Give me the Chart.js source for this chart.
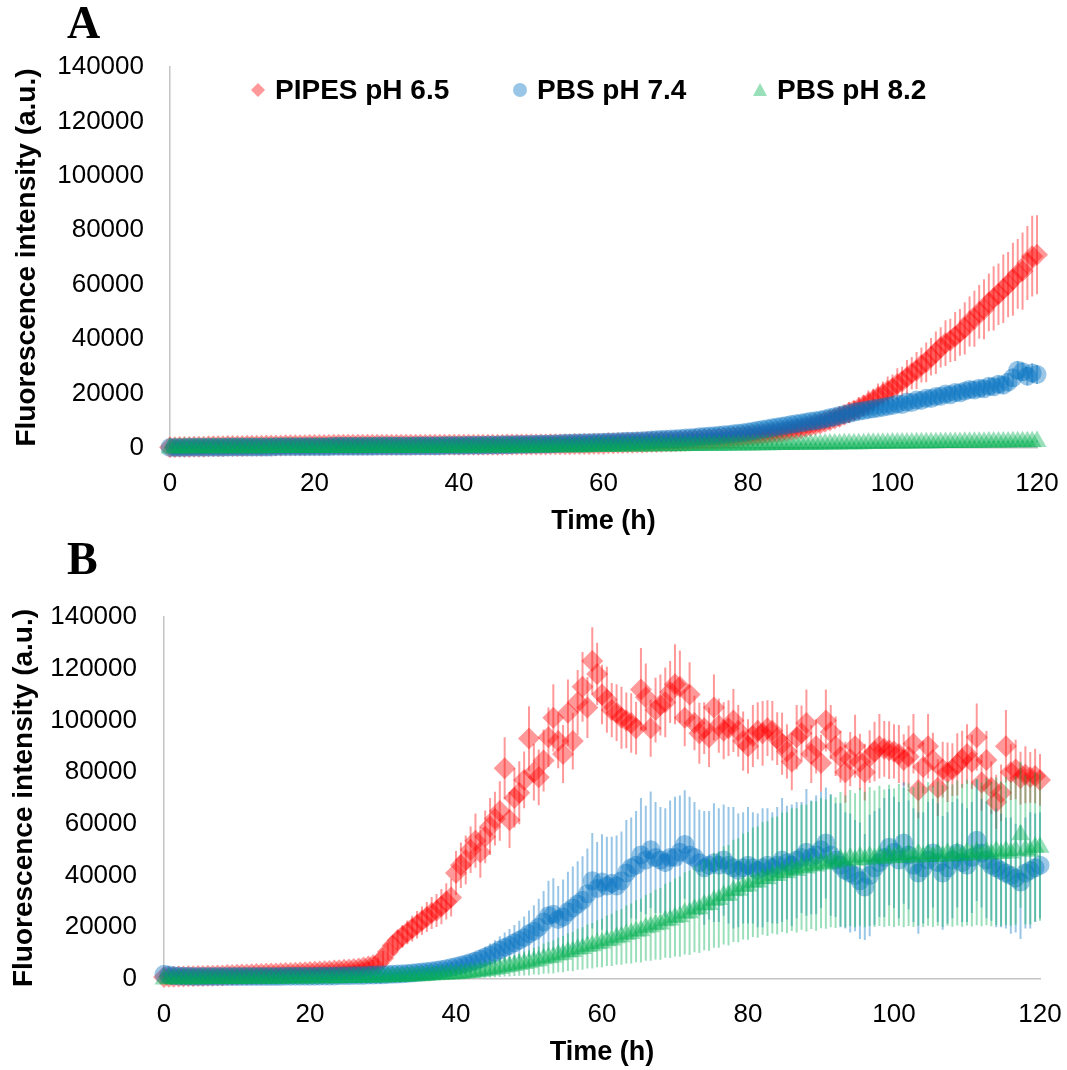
<!DOCTYPE html>
<html>
<head>
<meta charset="utf-8">
<script src="https://cdn.jsdelivr.net/npm/chart.js@4.4.1/dist/chart.umd.min.js"></script>
<style>
  html, body { margin: 0; padding: 0; background: #fff; }
  #page { position: relative; width: 1067px; height: 1070px; overflow: hidden; font-family: 'Liberation Sans', Arial, sans-serif; }
  .panel { position: absolute; left: 0; width: 1067px; }
  #panelA { top: 0; height: 545px; }
  #panelB { top: 545px; height: 525px; }
  .letter { position: absolute; left: 67px; font-family: 'Liberation Serif', 'Times New Roman', serif; font-weight: bold; font-size: 46px; line-height: 1; color: #000; }
  .legend-item { position: absolute; top: 75px; height: 30px; display: flex; align-items: center; font-weight: bold; font-size: 28px; line-height: 30px; color: #000; white-space: nowrap; }
  .legend-item svg { margin-right: 10px; }
</style>
</head>
<body>
<div id="page">
  <div class="panel" id="panelA"><canvas id="chartA"></canvas></div>
  <div class="panel" id="panelB"><canvas id="chartB"></canvas></div>
  <div class="letter" style="top:0px">A</div>
  <div class="letter" style="top:536px">B</div>
  <div id="legend"></div>
</div>
<script>
// one plate-reader read every 40 min, 0 to 120 h (181 reads per series)
const HOURS_PER_READ = 2 / 3;

const seriesNames = ['PIPES pH 6.5', 'PBS pH 7.4', 'PBS pH 8.2'];
const yTicks = [0, 20000, 40000, 60000, 80000, 100000, 120000, 140000];
const xTicks = [0, 20, 40, 60, 80, 100, 120];

// all values below are in thousands of a.u., one row = 10 h (15 reads)

// ---- panel A ----
const aPipes65 = [
  0.3,0.3,0.4,0.4,0.4,0.5,0.5,0.5,0.6,0.6,0.6,0.6,0.7,0.7,0.7,
  0.7,0.8,0.8,0.8,0.8,0.9,0.9,0.9,0.9,1.0,1.0,1.0,1.0,1.0,1.1,
  1.1,1.1,1.1,1.1,1.2,1.2,1.2,1.2,1.2,1.2,1.2,1.2,1.2,1.2,1.2,
  1.2,1.2,1.2,1.2,1.2,1.2,1.2,1.2,1.2,1.2,1.2,1.2,1.2,1.2,1.2,
  1.2,1.2,1.2,1.2,1.2,1.2,1.2,1.2,1.2,1.2,1.3,1.3,1.3,1.3,1.3,
  1.3,1.3,1.3,1.3,1.4,1.4,1.4,1.4,1.4,1.5,1.5,1.5,1.5,1.6,1.6,
  1.6,1.7,1.7,1.8,1.8,1.9,1.9,2.0,2.0,2.1,2.2,2.2,2.3,2.4,2.4,
  2.5,2.6,2.7,2.8,2.9,3.0,3.1,3.2,3.3,3.5,3.6,3.7,3.9,4.0,4.2,
  4.4,4.6,4.8,5.0,5.2,5.5,5.7,6.0,6.3,6.6,7.0,7.3,7.7,8.1,8.6,
  9.0,9.6,10.2,10.8,11.5,12.2,13.0,13.8,14.6,15.6,16.6,17.6,18.8,19.8,21.0,
  22.0,23.5,24.5,26.0,27.5,28.5,30.5,31.5,33.5,35.0,37.0,38.5,39.5,41.0,42.5,
  44.0,46.5,47.5,50.0,51.0,53.5,55.0,56.5,58.5,60.0,62.0,64.0,65.0,68.0,70.5,
  71.0
];
const aPipes65Err = [
  0.2,0.2,0.3,0.2,0.2,0.3,0.2,0.3,0.2,0.2,0.3,0.2,0.3,0.2,0.3,
  0.2,0.3,0.3,0.2,0.3,0.3,0.2,0.3,0.3,0.3,0.2,0.3,0.3,0.3,0.3,
  0.3,0.3,0.3,0.2,0.3,0.3,0.3,0.3,0.3,0.3,0.3,0.3,0.3,0.3,0.3,
  0.3,0.3,0.3,0.3,0.3,0.3,0.3,0.3,0.3,0.3,0.3,0.3,0.3,0.3,0.3,
  0.3,0.3,0.3,0.3,0.3,0.3,0.3,0.3,0.3,0.3,0.3,0.3,0.3,0.3,0.3,
  0.3,0.3,0.3,0.3,0.3,0.3,0.4,0.3,0.4,0.3,0.4,0.4,0.4,0.4,0.4,
  0.4,0.4,0.5,0.4,0.5,0.5,0.5,0.6,0.5,0.6,0.6,0.7,0.6,0.7,0.7,
  0.8,0.7,0.9,0.8,1.0,0.9,1.1,1.0,1.2,1.1,1.3,1.2,1.4,1.3,1.5,
  1.4,1.6,1.5,1.8,1.6,1.9,1.8,2.1,1.9,2.3,2.1,2.5,2.3,2.7,2.5,
  2.9,2.7,3.2,2.9,3.5,3.2,3.8,3.5,4.1,3.8,4.5,4.2,4.9,4.6,5.3,
  5.0,5.8,5.4,6.3,5.9,6.8,6.4,7.3,6.9,7.8,7.4,8.4,8.0,9.0,8.6,
  9.6,9.2,10.3,9.9,11.0,10.6,11.8,11.3,12.6,12.0,13.4,12.8,14.2,13.6,14.8,
  14.5
];
const aPbs74 = [
  0.2,0.2,0.2,0.2,0.3,0.3,0.3,0.3,0.3,0.3,0.3,0.3,0.4,0.4,0.4,
  0.4,0.4,0.4,0.4,0.4,0.4,0.4,0.5,0.5,0.5,0.5,0.5,0.5,0.5,0.5,
  0.5,0.5,0.5,0.5,0.6,0.6,0.6,0.6,0.6,0.6,0.6,0.6,0.6,0.7,0.7,
  0.7,0.7,0.7,0.7,0.7,0.7,0.8,0.8,0.8,0.8,0.8,0.8,0.9,0.9,0.9,
  0.9,0.9,1.0,1.0,1.0,1.0,1.1,1.1,1.1,1.2,1.2,1.2,1.3,1.3,1.3,
  1.4,1.4,1.5,1.5,1.5,1.6,1.6,1.7,1.7,1.8,1.8,1.9,1.9,2.0,2.0,
  2.1,2.2,2.2,2.3,2.4,2.5,2.5,2.6,2.7,2.8,2.9,3.0,3.1,3.2,3.3,
  3.4,3.5,3.7,3.8,3.9,4.1,4.2,4.4,4.5,4.7,4.9,5.0,5.2,5.4,5.6,
  5.9,6.2,6.5,6.8,7.1,7.4,7.7,8.0,8.3,8.6,8.9,9.2,9.5,9.8,10.0,
  10.3,10.7,11.1,11.5,11.9,12.3,12.7,13.1,13.5,13.8,14.1,14.4,14.7,15.0,15.3,
  15.6,16.2,16.0,16.9,16.7,17.6,17.5,18.3,18.2,18.9,19.0,19.8,19.6,20.4,20.3,
  20.9,21.5,21.3,22.0,21.8,22.7,22.5,23.4,23.1,24.2,25.8,28.6,28.0,26.4,27.6,
  27.0
];
const aPbs74Err = [
  0.2,0.2,0.2,0.1,0.2,0.2,0.2,0.2,0.1,0.2,0.2,0.2,0.2,0.2,0.2,
  0.2,0.2,0.2,0.2,0.2,0.2,0.2,0.2,0.2,0.2,0.2,0.2,0.2,0.2,0.2,
  0.2,0.2,0.2,0.2,0.2,0.2,0.2,0.2,0.2,0.2,0.2,0.2,0.2,0.2,0.2,
  0.2,0.2,0.2,0.2,0.2,0.2,0.2,0.2,0.2,0.2,0.2,0.2,0.2,0.2,0.2,
  0.2,0.2,0.2,0.2,0.2,0.2,0.2,0.2,0.3,0.2,0.3,0.2,0.3,0.3,0.3,
  0.3,0.3,0.3,0.3,0.3,0.3,0.3,0.3,0.3,0.3,0.3,0.3,0.3,0.3,0.3,
  0.3,0.3,0.3,0.4,0.4,0.4,0.4,0.4,0.5,0.5,0.5,0.5,0.5,0.6,0.6,
  0.6,0.6,0.7,0.7,0.7,0.8,0.8,0.8,0.9,0.9,0.9,1.0,1.0,1.0,1.1,
  1.1,1.1,1.2,1.2,1.3,1.3,1.3,1.4,1.4,1.5,1.5,1.5,1.6,1.6,1.7,
  1.7,1.7,1.8,1.8,1.9,1.9,1.9,2.0,2.0,2.1,2.1,2.1,2.2,2.2,2.3,
  2.3,2.3,2.4,2.4,2.5,2.5,2.5,2.6,2.6,2.7,2.7,2.7,2.8,2.8,2.9,
  2.9,2.9,3.0,3.0,3.1,3.1,3.1,3.2,3.2,3.3,3.3,3.3,3.4,3.4,3.5,
  3.5
];
const aPbs82 = [
  0.0,0.0,0.0,0.1,0.1,0.1,0.1,0.1,0.1,0.1,0.1,0.1,0.1,0.1,0.1,
  0.1,0.1,0.1,0.1,0.1,0.1,0.2,0.2,0.2,0.2,0.2,0.2,0.2,0.2,0.2,
  0.2,0.2,0.2,0.2,0.2,0.2,0.2,0.2,0.2,0.2,0.2,0.3,0.3,0.3,0.3,
  0.3,0.3,0.3,0.3,0.3,0.3,0.3,0.3,0.3,0.3,0.3,0.3,0.3,0.3,0.3,
  0.3,0.3,0.3,0.3,0.3,0.4,0.4,0.4,0.4,0.4,0.4,0.4,0.4,0.4,0.4,
  0.4,0.4,0.4,0.4,0.5,0.5,0.5,0.5,0.5,0.5,0.5,0.5,0.5,0.6,0.6,
  0.6,0.6,0.6,0.6,0.6,0.7,0.7,0.7,0.7,0.7,0.7,0.8,0.8,0.8,0.8,
  0.8,0.8,0.9,0.9,0.9,0.9,0.9,1.0,1.0,1.0,1.0,1.0,1.1,1.1,1.1,
  1.1,1.1,1.2,1.2,1.2,1.2,1.3,1.3,1.3,1.3,1.3,1.4,1.4,1.4,1.4,
  1.4,1.5,1.5,1.5,1.5,1.6,1.6,1.6,1.6,1.6,1.7,1.7,1.7,1.7,1.7,
  1.8,1.8,1.8,1.8,1.8,1.9,1.9,1.9,1.9,1.9,2.0,2.0,2.0,2.0,2.0,
  2.1,2.1,2.1,2.1,2.1,2.2,2.2,2.2,2.2,2.2,2.3,2.3,2.3,2.3,2.3,
  2.4
];
const aPbs82Err = [
  0.1,0.1,0.1,0.1,0.1,0.1,0.1,0.1,0.1,0.1,0.1,0.1,0.1,0.1,0.1,
  0.1,0.1,0.1,0.1,0.1,0.1,0.1,0.1,0.1,0.1,0.1,0.1,0.1,0.1,0.1,
  0.1,0.1,0.1,0.1,0.1,0.1,0.1,0.1,0.1,0.1,0.1,0.1,0.1,0.1,0.1,
  0.1,0.1,0.1,0.1,0.1,0.1,0.1,0.1,0.1,0.1,0.1,0.1,0.1,0.1,0.1,
  0.1,0.1,0.1,0.1,0.1,0.1,0.1,0.1,0.1,0.1,0.1,0.1,0.1,0.1,0.1,
  0.2,0.2,0.2,0.2,0.2,0.2,0.2,0.2,0.2,0.2,0.2,0.2,0.2,0.2,0.2,
  0.2,0.2,0.2,0.2,0.2,0.2,0.2,0.2,0.2,0.2,0.2,0.2,0.2,0.2,0.2,
  0.2,0.2,0.2,0.2,0.2,0.2,0.2,0.2,0.2,0.2,0.2,0.2,0.2,0.2,0.2,
  0.3,0.3,0.3,0.3,0.3,0.3,0.3,0.3,0.3,0.3,0.3,0.3,0.3,0.3,0.3,
  0.3,0.3,0.3,0.3,0.3,0.3,0.3,0.3,0.3,0.3,0.3,0.3,0.3,0.3,0.3,
  0.4,0.4,0.4,0.4,0.4,0.4,0.4,0.4,0.4,0.4,0.4,0.4,0.4,0.4,0.4,
  0.4,0.4,0.4,0.4,0.4,0.4,0.4,0.4,0.4,0.4,0.4,0.4,0.4,0.4,0.4,
  0.4
];

// ---- panel B ----
const bPipes65 = [
  0.8,0.9,0.9,1.0,1.0,1.1,1.1,1.2,1.2,1.3,1.3,1.4,1.4,1.5,1.5,
  1.6,1.7,1.7,1.8,1.9,1.9,2.0,2.1,2.1,2.2,2.3,2.3,2.4,2.5,2.6,
  2.7,2.8,2.9,3.0,3.1,3.3,3.4,3.6,3.7,3.9,4.1,4.4,4.8,5.3,6.0,
  8.0,10.5,13.0,15.0,16.5,18.0,19.5,21.0,22.5,24.0,25.5,26.5,28.0,30.0,31.5,
  41.0,44.0,46.0,50.0,53.5,49.0,55.0,59.0,62.0,65.0,81.5,61.5,70.0,72.0,77.0,
  93.0,80.0,78.0,84.5,93.5,101.0,92.0,87.0,103.0,92.0,107.0,113.0,105.0,123.0,118.0,
  110.0,108.0,104.0,103.0,101.0,100.0,99.0,97.0,112.0,109.0,97.0,104.0,106.0,107.0,111.0,
  114.0,113.0,101.0,110.0,99.0,95.0,97.0,93.5,105.0,98.0,96.0,97.0,100.0,96.0,92.0,
  90.0,94.0,96.0,95.0,97.0,96.0,93.0,91.0,88.0,84.0,93.5,95.0,99.0,87.0,90.0,
  83.5,100.0,95.5,90.0,86.0,80.0,85.0,90.0,84.0,80.0,86.0,88.0,90.0,89.0,88.5,
  88.0,87.0,84.7,86.0,91.0,73.0,82.0,90.0,84.7,74.0,81.0,80.0,81.0,83.0,85.0,
  87.0,84.0,93.5,76.0,84.7,74.0,68.5,72.0,90.0,80.0,81.0,77.7,79.0,78.0,78.5,
  77.0
];
const bPipes65Err = [
  0.4,0.5,0.4,0.5,0.5,0.4,0.5,0.6,0.5,0.5,0.6,0.5,0.6,0.6,0.5,
  0.6,0.7,0.6,0.7,0.7,0.6,0.7,0.8,0.7,0.8,0.8,0.7,0.8,0.9,0.8,
  0.9,0.9,1.0,1.0,1.1,1.1,1.2,1.3,1.3,1.4,1.5,1.6,1.8,2.0,2.3,
  2.8,3.3,3.7,4.0,4.4,4.6,5.0,5.3,5.5,5.8,6.2,6.4,6.8,7.0,7.3,
  8.5,8.8,9.5,9.0,10.5,9.8,10.2,11.0,10.4,11.5,12.0,10.8,11.5,12.2,11.0,
  12.5,11.0,10.8,12.0,11.5,13.0,10.5,11.2,12.8,11.0,12.5,13.5,11.8,13.0,12.0,
  11.5,12.8,10.5,11.0,12.0,10.8,11.5,10.2,16.0,13.0,11.0,12.5,11.8,13.5,12.0,
  15.5,14.0,11.0,12.5,10.5,11.8,10.0,11.5,12.8,10.5,11.0,10.8,12.2,10.0,11.5,
  10.5,12.0,11.0,12.5,10.8,11.5,10.2,12.0,10.5,11.0,12.5,10.8,13.0,11.2,10.5,
  11.0,12.0,10.5,11.5,10.0,11.8,10.5,12.2,10.8,11.0,10.2,11.5,12.5,10.8,11.2,
  10.5,11.2,10.0,12.0,11.5,10.8,10.2,12.5,10.5,11.0,10.8,11.5,10.2,12.0,11.0,
  11.5,10.5,13.0,10.8,11.2,10.2,10.5,11.0,14.0,10.8,11.5,10.2,11.0,9.8,10.5,
  10.0
];
const bPbs74 = [
  1.8,1.5,1.3,1.2,1.1,1.1,1.0,1.0,1.0,1.0,1.0,1.0,1.0,1.0,1.0,
  1.0,1.0,1.0,1.0,1.0,1.0,1.0,1.0,1.0,1.0,1.1,1.1,1.1,1.1,1.1,
  1.1,1.1,1.2,1.2,1.2,1.2,1.3,1.3,1.3,1.4,1.4,1.4,1.5,1.5,1.6,
  1.6,1.7,1.8,1.9,2.0,2.1,2.3,2.5,2.7,2.9,3.1,3.4,3.7,4.0,4.4,
  4.8,5.3,5.8,6.4,7.0,7.7,8.5,9.3,10.2,11.2,12.2,13.0,14.0,15.0,16.0,
  17.5,18.5,20.0,22.0,24.5,25.0,23.0,24.0,26.0,27.5,29.0,30.5,33.0,38.0,35.0,
  37.5,36.0,37.0,36.0,38.0,41.0,43.0,44.0,48.0,46.0,50.0,47.0,46.0,45.0,47.0,
  47.0,49.0,52.0,48.0,47.0,45.0,43.0,44.0,45.0,44.0,46.0,44.0,43.0,42.0,43.0,
  44.0,43.0,42.0,43.0,44.0,43.0,44.0,46.0,45.0,44.0,46.0,47.0,49.0,47.0,48.0,
  50.0,52.6,48.0,46.0,44.0,42.0,41.0,40.0,38.0,35.6,40.0,43.0,45.0,47.0,51.0,
  49.0,46.0,52.6,48.0,44.0,41.0,43.0,46.0,48.7,45.0,41.0,43.0,46.0,48.7,45.0,
  44.0,47.0,53.7,48.7,46.0,44.0,43.0,42.0,41.0,40.0,39.0,37.5,41.0,42.0,43.0,
  44.0
];
const bPbs74Err = [
  0.5,0.4,0.4,0.4,0.3,0.3,0.3,0.3,0.3,0.3,0.3,0.3,0.3,0.3,0.3,
  0.3,0.3,0.3,0.3,0.4,0.4,0.4,0.4,0.4,0.4,0.4,0.4,0.4,0.4,0.4,
  0.4,0.4,0.5,0.5,0.5,0.5,0.5,0.5,0.6,0.6,0.6,0.6,0.7,0.7,0.7,
  0.8,0.8,0.9,0.9,1.0,1.0,1.1,1.2,1.3,1.4,1.5,1.6,1.8,1.9,2.1,
  2.3,2.5,2.8,3.0,3.3,3.6,4.0,4.4,4.8,5.3,5.8,6.3,6.9,7.5,8.2,
  9.0,10.0,11.0,12.0,13.5,14.0,13.0,14.5,15.5,16.0,16.5,17.0,17.5,18.5,18.0,
  18.5,19.0,18.0,19.5,19.0,20.5,19.5,21.0,22.0,21.0,22.5,21.5,20.5,21.0,22.0,
  23.5,22.0,21.0,22.5,21.5,20.5,22.0,21.0,23.0,22.0,21.5,22.5,23.5,22.0,21.5,
  22.5,21.5,22.0,23.0,22.0,21.5,22.5,24.0,22.0,23.5,22.5,21.5,24.5,22.0,23.0,
  22.5,21.5,23.5,22.0,24.0,22.5,23.0,21.5,22.5,20.5,23.5,22.0,21.0,23.0,22.5,
  21.5,22.5,23.5,21.0,22.0,23.5,21.5,22.5,21.0,23.0,22.0,21.5,22.5,21.0,23.0,
  22.0,21.5,23.5,21.0,22.5,21.5,23.0,22.0,21.5,22.5,21.0,22.0,21.5,22.5,21.0,
  20.5
];
const bPbs82 = [
  0.0,0.1,0.1,0.1,0.1,0.1,0.1,0.1,0.2,0.2,0.2,0.2,0.2,0.2,0.2,
  0.2,0.2,0.3,0.3,0.3,0.3,0.3,0.3,0.3,0.3,0.4,0.4,0.4,0.4,0.4,
  0.4,0.4,0.5,0.5,0.5,0.5,0.5,0.6,0.6,0.6,0.6,0.7,0.7,0.7,0.8,
  0.8,0.9,0.9,1.0,1.0,1.1,1.2,1.3,1.3,1.4,1.5,1.6,1.7,1.8,1.9,
  2.0,2.1,2.3,2.5,2.7,3.0,3.2,3.5,3.8,4.1,4.5,4.8,5.2,5.6,6.0,
  6.3,6.9,7.1,7.8,8.2,8.5,9.3,9.6,10.4,10.6,11.5,11.8,12.6,12.9,13.6,
  13.9,14.8,15.1,16.0,16.3,17.2,17.6,18.5,18.7,19.8,20.2,21.0,21.3,22.5,22.8,
  23.8,24.1,25.4,25.6,27.0,27.2,28.6,28.8,30.4,30.7,32.3,32.4,34.1,34.3,35.8,
  36.0,37.4,37.5,38.9,38.8,40.1,40.0,41.3,41.1,42.3,42.0,43.2,42.9,44.0,43.7,
  44.8,44.4,45.6,45.0,46.3,45.5,46.8,45.9,47.2,46.2,47.4,46.5,47.6,46.7,47.8,
  46.9,48.0,47.0,48.1,47.2,48.3,47.3,48.4,47.4,48.5,47.5,48.6,47.7,48.8,47.8,
  48.9,48.0,49.1,48.2,49.2,48.3,49.4,48.5,49.5,48.7,49.7,55.8,50.0,49.4,51.0,
  51.0
];
const bPbs82Err = [
  0.2,0.2,0.2,0.2,0.2,0.2,0.2,0.2,0.2,0.2,0.2,0.2,0.2,0.2,0.2,
  0.2,0.2,0.2,0.3,0.3,0.3,0.3,0.3,0.3,0.3,0.3,0.3,0.3,0.3,0.3,
  0.3,0.3,0.3,0.4,0.4,0.4,0.4,0.4,0.4,0.4,0.5,0.5,0.5,0.5,0.5,
  0.5,0.6,0.6,0.7,0.7,0.8,0.9,1.0,1.0,1.1,1.2,1.3,1.4,1.5,1.6,
  1.7,1.8,2.0,2.1,2.3,2.5,2.7,2.9,3.1,3.3,3.5,3.8,4.0,4.3,4.6,
  4.9,5.2,5.5,5.8,6.1,6.4,6.7,7.0,7.3,7.6,7.9,8.2,8.5,8.8,9.1,
  9.4,9.8,10.1,10.5,10.8,11.2,11.6,12.0,12.3,12.7,13.1,13.5,13.9,14.3,14.7,
  15.1,15.5,15.9,16.3,16.7,17.1,17.5,17.9,18.3,18.6,19.0,19.4,19.8,20.1,20.5,
  20.8,21.2,21.5,21.8,22.2,22.5,22.8,23.1,23.4,23.7,24.0,24.2,24.5,24.7,25.0,
  25.2,25.0,25.6,25.3,26.0,25.6,26.3,25.9,26.6,26.2,26.9,26.4,27.1,26.6,27.3,
  26.8,27.4,27.0,27.6,27.1,27.7,27.2,27.8,27.3,27.9,27.4,28.0,27.5,28.1,27.6,
  28.2,27.7,28.3,27.8,28.4,27.9,28.5,28.0,28.6,28.1,28.7,28.2,28.8,28.3,28.8,
  28.5
];

const FONT = "'Liberation Sans', Arial, sans-serif";
const markerFill = ['rgba(255,0,0,0.4)', 'rgba(0,112,192,0.4)', 'rgba(0,176,80,0.4)'];
const barColor   = ['rgba(255,0,0,0.4)', 'rgba(0,112,192,0.4)', 'rgba(0,176,80,0.4)'];
const markerStyle = ['rectRot', 'circle', 'triangle'];
const markerRadius = [11, 9.5, 11];

const toPoints = vals => vals.map((v, i) => ({ x: i * HOURS_PER_READ, y: v * 1000 }));

// vertical error bars, drawn just before each series' own markers (Excel-like layering)
const errorBars = {
  id: 'errorBars',
  beforeDatasetDraw(chart, args) {
    const ds = chart.data.datasets[args.index];
    if (!ds.errors) return;
    const yScale = chart.scales.y;
    const ctx = chart.ctx;
    ctx.save();
    ctx.strokeStyle = ds.errorColor;
    ctx.lineWidth = 2;
    ctx.beginPath();
    ds.data.forEach((p, i) => {
      const e = ds.errors[i] * 1000;
      if (!e) return;
      const px = args.meta.data[i].x;
      ctx.moveTo(px, yScale.getPixelForValue(p.y - e));
      ctx.lineTo(px, yScale.getPixelForValue(p.y + e));
    });
    ctx.stroke();
    ctx.restore();
  }
};

function makePanel(canvasId, values, errors, box) {
  const datasets = values.map((vals, k) => ({
    label: seriesNames[k],
    data: toPoints(vals),
    errors: errors[k],
    errorColor: barColor[k],
    pointStyle: markerStyle[k],
    pointRadius: markerRadius[k],
    pointHoverRadius: markerRadius[k],
    backgroundColor: markerFill[k],
    borderWidth: 0,
    showLine: false,
    clip: false,
    order: 3 - k   // PIPES drawn first, pH 8.2 on top
  }));
  return new Chart(document.getElementById(canvasId), {
    type: 'scatter',
    data: { datasets },
    plugins: [errorBars],
    options: {
      responsive: true,
      maintainAspectRatio: false,
      animation: false,
      events: [],
      layout: { padding: { top: box.top, right: box.right, bottom: box.bottom, left: 0 } },
      plugins: { legend: { display: false }, tooltip: { enabled: false } },
      scales: {
        x: {
          type: 'linear', min: 0, max: 120,
          afterBuildTicks: s => { s.ticks = xTicks.map(v => ({ value: v })); },
          ticks: { padding: 20, color: '#000', maxRotation: 0, font: { family: FONT, size: 26 } },
          grid: { display: false, drawTicks: false },
          border: { display: true, color: '#c4c4c4', width: 1.5 },
          title: { display: true, text: 'Time (h)', color: '#000', padding: { top: 0, bottom: 0 },
                   font: { family: FONT, size: 27, weight: 'bold' } },
          // fixed axis band; tick padding must not eat into the plot width
          afterFit: s => { s.height = 90; s.paddingLeft = 0; s.paddingRight = 22; }
        },
        y: {
          type: 'linear', min: 0, max: 140000,
          afterBuildTicks: s => { s.ticks = yTicks.map(v => ({ value: v })); },
          ticks: { padding: box.yPad, color: '#000', callback: v => String(v), font: { family: FONT, size: 26 } },
          grid: { display: false, drawTicks: false },
          border: { display: true, color: '#c4c4c4', width: 1.5 },
          title: { display: true, text: 'Fluorescence intensity (a.u.)', color: '#000',
                   padding: { top: box.titlePad, bottom: 0 }, font: { family: FONT, size: 28, weight: 'bold' } },
          afterFit: s => { s.width = box.left; }
        }
      }
    }
  });
}

makePanel('chartA', [aPipes65, aPbs74, aPbs82], [aPipes65Err, aPbs74Err, aPbs82Err],
  { top: 67, right: 30, bottom: 7, left: 170, yPad: 26, titlePad: 10 });
makePanel('chartB', [bPipes65, bPbs74, bPbs82], [bPipes65Err, bPbs74Err, bPbs82Err],
  { top: 72, right: 27, bottom: 1, left: 164, yPad: 27, titlePad: 7 });

// legend (panel A only), built from the series names
const legendLeft = [251, 513, 753];
const legendShape = [
  '<polygon points="7,0 14,7 7,14 0,7"/>',
  '<circle cx="7" cy="7" r="7"/>',
  '<polygon points="7,0 14,13 0,13"/>'
];
const legendEl = document.getElementById('legend');
seriesNames.forEach((name, k) => {
  const item = document.createElement('div');
  item.className = 'legend-item';
  item.style.left = legendLeft[k] + 'px';
  item.innerHTML = '<svg width="14" height="14" viewBox="0 0 14 14" fill="' + markerFill[k] + '">' +
    legendShape[k] + '</svg><span>' + name + '</span>';
  legendEl.appendChild(item);
});
</script>
</body>
</html>
